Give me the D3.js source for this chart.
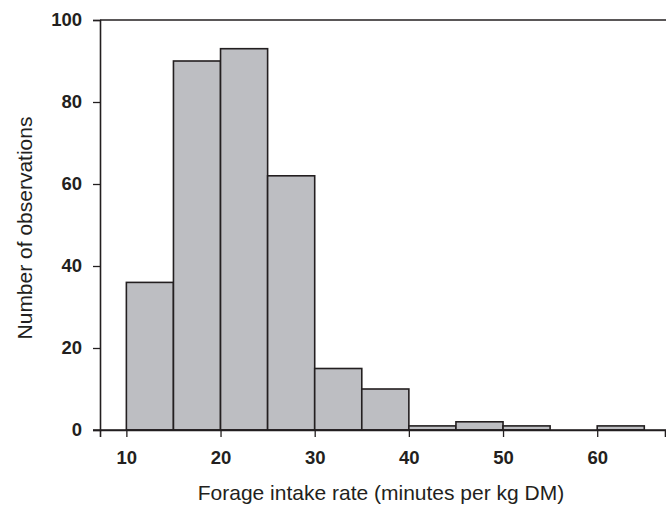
<!DOCTYPE html>
<html>
<head>
<meta charset="utf-8">
<script src="https://cdn.jsdelivr.net/npm/d3@7"></script>
<style>
  body { margin: 0; background: #fff; }
  svg { display: block; }
  .tick text { font-family: "Liberation Sans", Arial, sans-serif; font-weight: bold; font-size: 18.5px; fill: #231f20; }
  .label { font-family: "Liberation Sans", Arial, sans-serif; font-size: 21px; fill: #231f20; }
</style>
</head>
<body>
<svg id="chart"></svg>
<script>
// bin edges (minutes per kg DM) and counts
var binStart = [10, 15, 20, 25, 30, 35, 40, 45, 50, 55, 60];
var binWidth = 5;
var counts = [36, 90, 93, 62, 15, 10, 1, 2, 1, 0, 1];
var xTicks = [10, 20, 30, 40, 50, 60];
var yTicks = [0, 20, 40, 60, 80, 100];

var width = 666, height = 505;
var margin = { top: 20, right: 1, bottom: 75, left: 100 };

var svg = d3.select("#chart")
    .attr("width", width)
    .attr("height", height);

var x = d3.scaleLinear()
    .domain([7.2, 67.2])
    .range([margin.left, width - margin.right]);

var y = d3.scaleLinear()
    .domain([0, 100])
    .range([height - margin.bottom, margin.top]);

var ink = "#231f20";

// bars
svg.append("g")
    .selectAll("rect")
    .data(binStart.map(function(d, i) { return { x0: d, n: counts[i] }; }).filter(function(d) { return d.n > 0; }))
    .enter().append("rect")
    .attr("x", function(d) { return x(d.x0); })
    .attr("width", function(d) { return x(d.x0 + binWidth) - x(d.x0); })
    .attr("y", function(d) { return y(d.n); })
    .attr("height", function(d) { return y(0) - y(d.n); })
    .attr("fill", "#bdbec2")
    .attr("stroke", ink)
    .attr("stroke-width", 1.6);

// top frame line
svg.append("line")
    .attr("x1", margin.left).attr("x2", width)
    .attr("y1", y(100)).attr("y2", y(100))
    .attr("stroke", ink)
    .attr("stroke-width", 1.6);

// y axis
var yAxis = svg.append("g")
    .attr("transform", "translate(" + margin.left + ",0)")
    .call(d3.axisLeft(y).tickValues(yTicks).tickSize(7).tickPadding(11));

// x axis
var xAxis = svg.append("g")
    .attr("transform", "translate(0," + y(0) + ")")
    .call(d3.axisBottom(x).tickValues(xTicks).tickSize(7).tickPadding(14));

[xAxis, yAxis].forEach(function(a) {
    a.select(".domain").attr("stroke", ink).attr("stroke-width", 1.6);
    a.selectAll(".tick line").attr("stroke", ink).attr("stroke-width", 1.3);
});

// extend x axis line left to the 0 tick
svg.append("line")
    .attr("x1", margin.left - 7).attr("x2", width)
    .attr("y1", y(0)).attr("y2", y(0))
    .attr("stroke", ink)
    .attr("stroke-width", 1.6);

// axis titles
svg.append("text")
    .attr("class", "label")
    .attr("x", 381)
    .attr("y", 500)
    .attr("text-anchor", "middle")
    .text("Forage intake rate (minutes per kg DM)");

svg.append("text")
    .attr("class", "label")
    .attr("transform", "translate(32," + (y(50) + 3) + ") rotate(-90)")
    .attr("text-anchor", "middle")
    .text("Number of observations");
</script>
</body>
</html>
